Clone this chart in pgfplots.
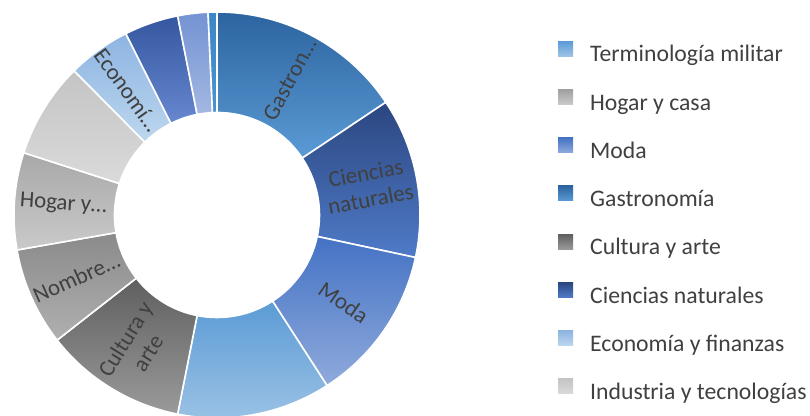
\documentclass[border=0pt]{standalone}
\usepackage{pgfplots}
\pgfplotsset{compat=1.18}
\usepackage{pgfplotstable}
\usepackage{fontspec}
\setmainfont{Carlito}

\definecolor{txt}{HTML}{404040}
% slice gradients (top / bottom), clockwise from 12 o'clock
\definecolor{t0}{HTML}{2C64A0}\definecolor{b0}{HTML}{5B9BD5}% Gastronomia
\definecolor{t1}{HTML}{2B4680}\definecolor{b1}{HTML}{4F7BC8}% Ciencias naturales
\definecolor{t2}{HTML}{4472C4}\definecolor{b2}{HTML}{8FAADC}% Moda
\definecolor{t3}{HTML}{5B9BD5}\definecolor{b3}{HTML}{9DC3E6}% Terminologia militar
\definecolor{t4}{HTML}{5F5F5F}\definecolor{b4}{HTML}{9A9A9A}% Cultura y arte
\definecolor{t5}{HTML}{8A8A8A}\definecolor{b5}{HTML}{B0B0B0}% Nombres
\definecolor{t6}{HTML}{A8A8A8}\definecolor{b6}{HTML}{CACACA}% Hogar y casa
\definecolor{t7}{HTML}{C4C4C4}\definecolor{b7}{HTML}{DADADA}% Industria
\definecolor{t8}{HTML}{8DB4E2}\definecolor{b8}{HTML}{BDD7EE}% Economia
\definecolor{t9}{HTML}{34579F}\definecolor{b9}{HTML}{6788D0}
\definecolor{t10}{HTML}{7393D2}\definecolor{b10}{HTML}{A3B7E2}
\definecolor{t11}{HTML}{3B87C9}\definecolor{b11}{HTML}{4A93D0}
\definecolor{lhog}{HTML}{A0A0A0}

\pgfplotstableread{
idx value
0  15.6
1  12.7
2  12.5
3  12.2
4  11.3
5  7.8
6  7.7
7  7.6
8  5.0
9  4.3
10 2.4
11 0.7
}\donut

\def\slicelabel#1{\ifcase#1 Gastron…\or Ciencias\\naturales\or Moda\or\or Cultura y\\arte\or Nombre…\or Hogar y…\or\or Economí…\else\fi}
\def\cx{217}\def\cy{201}\def\Ro{203}\def\Ri{102.5}

\pgfplotsset{
  gradleg/.style 2 args={legend image code/.code={\path[draw=none,top color=#1,bottom color=#2] (0bp,0bp) rectangle (15bp,15bp);}}
}

\begin{document}
\begin{tikzpicture}
\begin{axis}[
  x=1bp, y=1bp, xmin=0, xmax=810, ymin=0, ymax=416,
  hide axis, clip=false,
  legend cell align=left,
  legend style={at={(axis cs:555,377)}, anchor=north west, draw=none, fill=none,
    font=\fontsize{23.8}{28}\selectfont, text=txt, row sep=22bp, column sep=17bp,
    nodes={inner sep=0pt, text height=17bp, text depth=5.5bp}},
]
% total
\def\total{0}
\pgfplotstablegetrowsof{\donut}
\pgfmathtruncatemacro\N{\pgfplotsretval-1}
\pgfplotsforeachungrouped \i in {0,...,\N}{%
  \pgfplotstablegetelem{\i}{value}\of\donut
  \pgfmathsetmacro\total{\total+\pgfplotsretval}%
}
\def\acc{0}
\pgfplotsforeachungrouped \i in {0,...,\N}{%
  \pgfplotstablegetelem{\i}{value}\of\donut
  \let\v\pgfplotsretval
  \pgfmathsetmacro\aS{90-\acc/\total*360}%
  \pgfmathsetmacro\acc{\acc+\v}%
  \pgfmathsetmacro\aE{90-\acc/\total*360}%
  \pgfmathsetmacro\aM{(\aS+\aE)/2}%
  \pgfmathsetmacro\rot{\aM<-90 ? \aM+180 : (\aM>90 ? \aM-180 : \aM)}%
  \edef\temp{%
    \noexpand\path[top color=t\i, bottom color=b\i, draw=white, line width=1.6bp, line join=round]
      (axis cs:{\cx+\Ro*cos(\aS)},{\cy+\Ro*sin(\aS)}) arc[start angle=\aS, end angle=\aE, radius=\Ro bp]
      -- (axis cs:{\cx+\Ri*cos(\aE)},{\cy+\Ri*sin(\aE)}) arc[start angle=\aE, end angle=\aS, radius=\Ri bp] -- cycle;
    \noexpand\node[rotate=\rot, align=center, text=txt, font=\noexpand\fontsize{23}{26.5}\noexpand\selectfont, inner sep=0pt]
      at (axis cs:{\cx+154*cos(\aM)},{\cy+154*sin(\aM)}) {\noexpand\slicelabel{\i}};
  }%
  \temp
}
\addlegendimage{gradleg={t3}{b3}}\addlegendentry{Terminología militar}
\addlegendimage{gradleg={lhog}{b6}}\addlegendentry{Hogar y casa}
\addlegendimage{gradleg={t2}{b2}}\addlegendentry{Moda}
\addlegendimage{gradleg={t0}{b0}}\addlegendentry{Gastronomía}
\addlegendimage{gradleg={t4}{b4}}\addlegendentry{Cultura y arte}
\addlegendimage{gradleg={t1}{b1}}\addlegendentry{Ciencias naturales}
\addlegendimage{gradleg={t8}{b8}}\addlegendentry{Economía y finanzas}
\addlegendimage{gradleg={t7}{b7}}\addlegendentry{Industria y tecnologías}
\end{axis}
\pgfresetboundingbox
\path (0,0) rectangle (810bp,416bp);
\end{tikzpicture}
\end{document}
